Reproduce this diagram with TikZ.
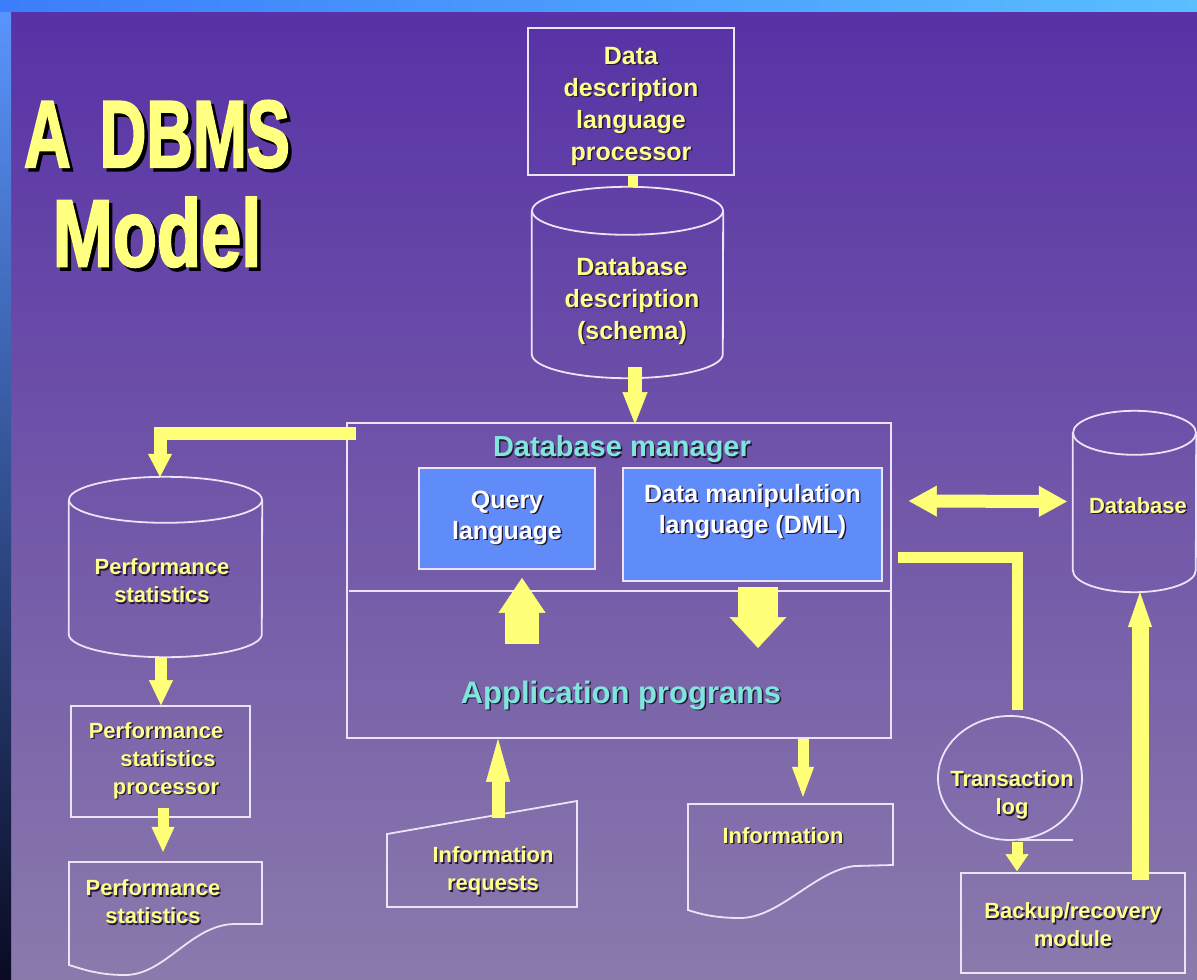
\documentclass[tikz,border=0pt]{standalone}
\usepackage{fontspec}
\setmainfont{Liberation Sans}
\newfontfamily\titlefont[BoldFeatures={FakeBold=2.5}]{Liberation Sans}
\usetikzlibrary{arrows.meta,calc}
\definecolor{bgtop}{RGB}{88,50,166}
\definecolor{bgbot}{RGB}{138,122,172}
\definecolor{lblyellow}{RGB}{255,255,140}
\definecolor{ayellow}{RGB}{255,255,120}
\definecolor{titleyellow}{RGB}{255,255,128}
\definecolor{outl}{RGB}{236,228,246}
\definecolor{boxblue}{RGB}{96,140,250}
\definecolor{cyantext}{RGB}{128,230,220}
\definecolor{shadowc}{RGB}{35,25,55}
\definecolor{stripA}{RGB}{90,150,255}
\definecolor{stripB}{RGB}{45,75,210}
\definecolor{stripC}{RGB}{10,10,35}
\definecolor{topA}{RGB}{60,125,250}
\definecolor{topB}{RGB}{90,190,255}

\newcommand\sh[1]{\leavevmode\rlap{\kern1.4pt\raisebox{-1.4pt}{\textcolor{shadowc}{#1}}}#1}
\newcommand\shT[1]{\leavevmode\rlap{\kern3.5pt\raisebox{-3.5pt}{\textcolor{black}{#1}}}#1}
\newcommand\cylout[3]{%
  \draw[outline] ($(#1.north west)+(0,#3)$) -- ($(#1.south west)+(0,-#3)$)
     arc[start angle=180,end angle=360,x radius=#2pt,y radius=#3pt]
     -- ($(#1.north east)+(0,#3)$);
  \draw[outline] ($(#1.north)+(0,#3)$) ellipse[x radius=#2pt, y radius=#3pt];}
\newcommand\barrow[4]{%
  \draw[ayellow, line width=0.5pt, -{Triangle[width=#3,length=#4]}] #1;
  \draw[ayellow, line width=#2, shorten >=#4-1pt] #1;}
\newcommand\dbarrow[4]{%
  \draw[ayellow, line width=0.5pt, {Triangle[width=#3,length=#4]}-{Triangle[width=#3,length=#4]}] #1;
  \draw[ayellow, line width=#2, shorten >=#4-1pt, shorten <=#4-1pt] #1;}

\tikzset{
  outline/.style={draw=outl, line width=1.8pt},
  box/.style={outline, rectangle, inner sep=0pt},
  area/.style={rectangle, inner sep=0pt, draw=none},
  lbl/.style={text=lblyellow, font=\fontsize{22}{28}\selectfont\bfseries, align=center, inner sep=0pt},
  lblbig/.style={text=lblyellow, font=\fontsize{25}{32}\selectfont\bfseries, align=center, inner sep=0pt},
  wlbl/.style={text=white, font=\fontsize{25}{31}\selectfont\bfseries, align=center, inner sep=0pt},
  cyanlbl/.style={text=cyantext, font=\fontsize{29}{34}\selectfont\bfseries, inner sep=0pt},
  titl/.style={text=titleyellow, font=\titlefont\fontsize{95}{95}\selectfont\bfseries, inner sep=0pt},
}

\begin{document}
\begin{tikzpicture}[x=1pt,y=-1pt]
\useasboundingbox (0,0) rectangle (1197,980);
% background
\shade[top color=bgtop, bottom color=bgbot] (11,11) rectangle (1197,980);
\shade[top color=stripA, middle color=stripB, bottom color=stripC] (0,0) rectangle (11,980);
\shade[left color=topA, right color=topB] (0,0) rectangle (1197,11);

% title
\node[titl] (title1) at (157,136) {\shT{\scalebox{0.68}[1]{A\kern0.45em DBMS}}};
\node[titl] (title2) at (157,234) {\shT{\scalebox{0.76}[1]{Model}}};

% DDL processor
\node[box, lblbig, minimum width=206pt, minimum height=147pt] (ddl) at (631,101.5)
  {\mbox{}\\[-4pt]\sh{Data}\\\sh{description}\\\sh{language}\\\sh{processor}};

% schema cylinder
\node[area, minimum width=191pt, minimum height=191pt] (schema) at (627.5,282.5) {};
\cylout{schema}{95.5}{24}
\node[lblbig] (schematxt) at (632,301.5) {\sh{Database}\\\sh{description}\\\sh{(schema)}};
\draw[ayellow, line width=10pt] ($(ddl.south)+(2,0)$) -- ($(schema.north)+(5.5,0)$);

% database manager
\node[box, minimum width=544pt, minimum height=315pt] (dbm) at (619,580.5) {};
\draw[outline] ($(dbm.north west)+(3,169)$) -- ($(dbm.north east)+(0,169)$);
\node[cyanlbl] (dbmtitle) at (622,450) {\sh{Database manager}};
\node[cyanlbl, font=\fontsize{31}{36}\selectfont\bfseries] (apptitle) at (621,696) {\sh{Application programs}};
\node[box, fill=boxblue, wlbl, minimum width=176pt, minimum height=101pt] (query) at (507,518.5)
  {\sh{Query}\\\sh{language}};
\node[box, fill=boxblue, wlbl, minimum width=259pt, minimum height=113pt] (dml) at (752.5,524.5)
  {\sh{Data manipulation}\\\sh{language (DML)}\\\mbox{}};

\barrow{($(schema.south)+(7.5,-11)$) -- ($(dbm.north)+(16,2)$)}{14pt}{25pt}{32pt}
\coordinate (qin) at (522,644);
\barrow{(qin) -- ($(query.south)+(15,8)$)}{34pt}{47pt}{35pt}
\coordinate (dmlout) at (758,648);
\barrow{($(dml.south)+(5.5,5)$) -- (dmlout)}{40pt}{57pt}{31pt}

% performance statistics
\node[area, minimum width=193pt, minimum height=180pt] (perf) at (165.5,567) {};
\cylout{perf}{96.5}{23}
\node[lbl] (perftxt) at (162,581.5) {\sh{Performance}\\\sh{statistics}};
\barrow{($(dbm.north west)+(10,11)$) -| ($(perf.north)+(-5.5,0)$)}{13pt}{24pt}{23pt}

\node[box, lbl, minimum width=179pt, minimum height=111pt] (proc) at (160.5,761.5)
  {\hspace*{-9pt}\sh{Performance}\\\hspace*{15pt}\sh{statistics}\\\hspace*{11pt}\sh{processor}};
\barrow{($(perf.south)+(-4.5,0)$) -- ($(proc.north)+(0.5,0)$)}{12pt}{24pt}{25pt}

\node[area, minimum width=193pt, minimum height=113pt] (perfdoc) at (165.5,918.5) {};
\draw[outline] (69,862) -- (262,862) -- (262,924) -- (233,924)
  .. controls (190,926) and (165,975) .. (125,975)
  .. controls (100,975) and (85,970) .. (69,965) -- cycle;
\node[lbl] (perfdoctxt) at (153,902.5) {\sh{Performance}\\\sh{statistics}};
\barrow{($(proc.south)+(2.5,-10)$) -- ($(perfdoc.north)+(-2.5,-10)$)}{11pt}{23pt}{25pt}

% information requests
\node[area, minimum width=190pt, minimum height=106pt] (inforeq) at (482,854) {};
\draw[outline] (387,834) -- (577,801) -- (577,907) -- (387,907) -- cycle;
\node[lbl] (inforeqtxt) at (493,872) {\sh{Information}\\\sh{requests}};
\barrow{($(inforeq.center)+(16,-36)$) -- ($(dbm.south)+(-121,0)$)}{13pt}{24pt}{43pt}

% information document
\node[area, minimum width=205pt, minimum height=114pt] (infodoc) at (790.5,861) {};
\draw[outline] (688,804) -- (893,804) -- (893,865) -- (855,866)
  .. controls (815,870) and (780,918) .. (740,918)
  .. controls (715,918) and (700,914) .. (688,910) -- cycle;
\node[lbl] (infotxt) at (783,836) {\sh{Information}};
\barrow{($(dbm.south)+(184,0)$) -- ($(infodoc.north)+(12.5,-7)$)}{11pt}{22pt}{30pt}

% database
\node[area, minimum width=123pt, minimum height=181pt] (db) at (1134.5,501.5) {};
\cylout{db}{61.5}{22}
\node[lbl] (dbtxt) at (1138,506) {\sh{Database}};
\dbarrow{($(dbm.east)+(17,-79.5)$) -- ($(db.west)+(-6,0)$)}{13pt}{31pt}{28pt}

% transaction log
\node[area, minimum width=144pt, minimum height=124pt] (tlog) at (1010,778) {};
\draw[outline] (tlog.center) ellipse[x radius=72pt, y radius=62pt];
\draw[outline] ($(tlog.south)+(8,0)$) -- ++(55,0);
\node[lbl] (tlogtxt) at (1012,796) {\sh{Transaction}\\\sh{log}};
\coordinate (tlogtop) at ($(tlog.north)+(7,-6)$);
\draw[ayellow, line width=11pt] ($(dbm.east)+(6,-23.5)$) -| (tlogtop);

% backup
\node[box, lbl, minimum width=224pt, minimum height=100pt] (backup) at (1073,923)
  {\mbox{}\\[-7pt]\sh{Backup/recovery}\\\sh{module}};
\barrow{($(tlog.south)+(7,2)$) -- ($(backup.north)+(-56,-1)$)}{11pt}{23pt}{17pt}
\barrow{($(backup.north)+(67,8)$) -- ($(db.south)+(5.5,0)$)}{17pt}{24pt}{35pt}
\end{tikzpicture}
\end{document}
